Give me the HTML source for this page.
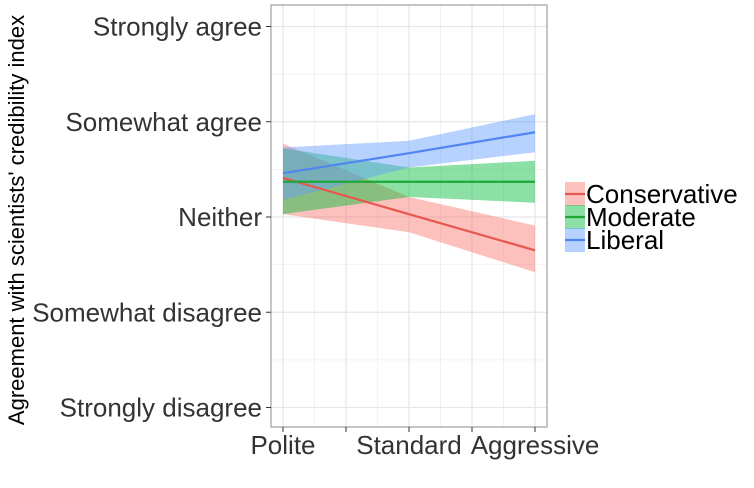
<!DOCTYPE html>
<html><head><meta charset="utf-8"><style>
body{margin:0;background:#fff;width:754px;height:483px;overflow:hidden;font-family:"Liberation Sans",sans-serif}
</style></head><body>
<svg id="chart" width="754" height="483" xmlns="http://www.w3.org/2000/svg"></svg>
<script>
const xCats=["Polite","","Standard","","Aggressive"];
const xTickVals=[0,0.5,1,1.5,2];
const yLabels=["Strongly disagree","Somewhat disagree","Neither","Somewhat agree","Strongly agree"];
const yVals=[1,2,3,4,5];
const seriesNames=["Conservative","Moderate","Liberal"];
const seriesColors=["#F8766D","#00BA38","#619CFF"];
const lineColors=["#E8574E","#1FA83A","#4F86F0"];
const fitX=[0,1,2];
const consFit=[3.41,3.03,2.65];
const consUp=[3.77,3.21,2.91];
const consLo=[3.03,2.84,2.42];
const modFit=[3.37,3.37,3.37];
const modUp=[3.72,3.52,3.59];
const modLo=[3.03,3.21,3.15];
const libFit=[3.46,3.67,3.89];
const libUp=[3.73,3.80,4.08];
const libLo=[3.18,3.52,3.68];

const svg=document.getElementById('chart');
const NS="http://www.w3.org/2000/svg";
const L=271,R=547,T=5,B=427;
const X0=283,X2=535;
const sx=v=>X0+(X2-X0)*v/2;
const sy=v=>217-(v-3)*95.25;
function mk(tag,attrs,parent){const e=document.createElementNS(NS,tag);for(const k in attrs)e.setAttribute(k,attrs[k]);(parent||svg).appendChild(e);return e;}
const grid=mk('g',{});


for(let v=1.5;v<5.5;v+=1){mk('line',{x1:L,x2:R,y1:sy(v),y2:sy(v),stroke:'#f2f2f2','stroke-width':1},grid);}
for(let i=0;i<xTickVals.length-1;i++){const v=(xTickVals[i]+xTickVals[i+1])/2;mk('line',{x1:sx(v),x2:sx(v),y1:T,y2:B,stroke:'#f2f2f2','stroke-width':1},grid);}
yVals.forEach(v=>mk('line',{x1:L,x2:R,y1:sy(v),y2:sy(v),stroke:'#e6e6e6','stroke-width':1.2},grid));
xTickVals.forEach(v=>mk('line',{x1:sx(v),x2:sx(v),y1:T,y2:B,stroke:'#e6e6e6','stroke-width':1.2},grid));
const fits=[consFit,modFit,libFit],ups=[consUp,modUp,libUp],los=[consLo,modLo,libLo];
fits.forEach((f,i)=>{
  let d='M'+fitX.map((x,j)=>sx(x)+','+sy(ups[i][j])).join(' L')+' L'+fitX.slice().reverse().map((x,j)=>sx(x)+','+sy(los[i][fitX.length-1-j])).join(' L')+'Z';
  const p=mk('path',{d:d,fill:seriesColors[i],'fill-opacity':0.45});
  
  
});
fits.forEach((f,i)=>{
  const p=mk('polyline',{points:fitX.map((x,j)=>sx(x)+','+sy(f[j])).join(' '),fill:'none',stroke:lineColors[i],'stroke-width':2.2});
  
  
});
const border=mk('rect',{x:L,y:T,width:R-L,height:B-T,fill:'none',stroke:'#8c8c8c','stroke-width':1});


yVals.forEach((v,i)=>{
  mk('line',{x1:L-5,x2:L,y1:sy(v),y2:sy(v),stroke:'#333'});
  const t=mk('text',{x:L-9,y:sy(v)+9,'text-anchor':'end','font-size':26,fill:'#333'});
  t.textContent=yLabels[i];
  
  
});
xTickVals.forEach((v,i)=>{
  mk('line',{x1:sx(v),x2:sx(v),y1:B,y2:B+5,stroke:'#333'});
  if(xCats[i]){const t=mk('text',{x:sx(v),y:B+27,'text-anchor':'middle','font-size':26,fill:'#333'});
  t.textContent=xCats[i];
  
  }
});
const yt=mk('text',{x:0,y:0,transform:'translate(24,220) rotate(-90)','text-anchor':'middle','font-size':22,fill:'#000'});
yt.textContent="Agreement with scientists' credibility index";


seriesNames.forEach((n,i)=>{
  const g=mk('g',{});
  
  
  const cy=194+i*23;
  mk('rect',{x:565,y:cy-12,width:20,height:24,fill:seriesColors[i],'fill-opacity':0.45},g);
  mk('line',{x1:565,x2:585,y1:cy,y2:cy,stroke:lineColors[i],'stroke-width':2.2},g);
  const t=mk('text',{x:586,y:cy+9,'font-size':26,fill:'#000'},g);
  t.textContent=n;
});
</script>
</body></html>
